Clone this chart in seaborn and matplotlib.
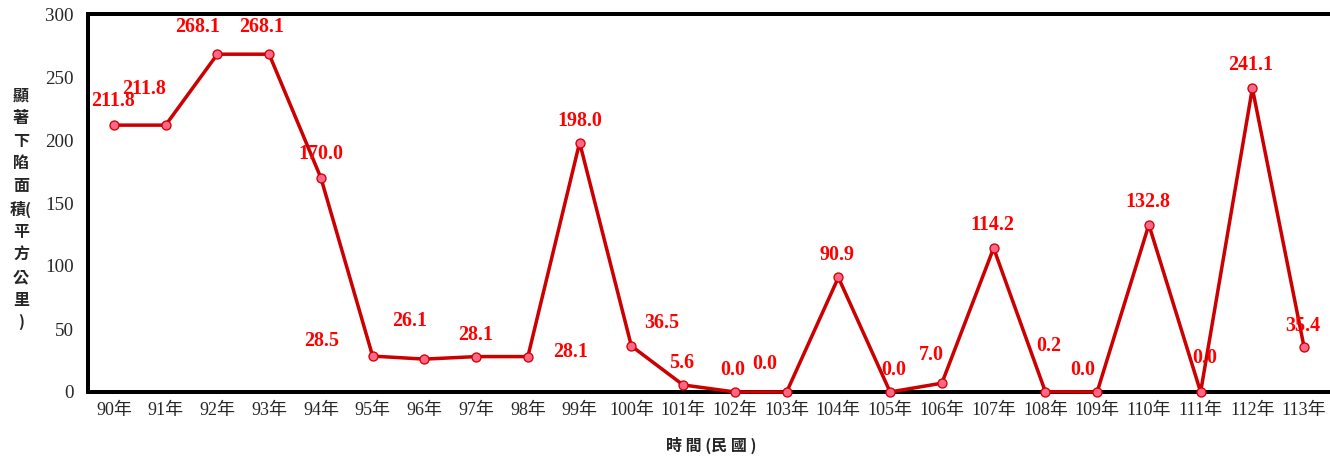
import numpy as np
import pandas as pd
import matplotlib
matplotlib.use("Agg")
import matplotlib.pyplot as plt
import seaborn as sns

years = list(range(90, 114))
area = [211.8, 211.8, 268.1, 268.1, 170.0, 28.5, 26.1, 28.1, 28.1, 198.0,
        36.5, 5.6, 0.0, 0.0, 90.9, 0.0, 7.0, 114.2, 0.2, 0.0,
        132.8, 0.0, 241.1, 35.4]
# label offsets (pixels) relative to each point, as placed in the original
label_dx = [-1, -22, -20, -8, 0, -51, -15, -1, 43, 0,
            30, -1, -2, -22, -1, 4, -11, -1, 3, -14,
            -1, 4, -2, -1]
label_dy = [24, 36, 27, 27, 24, 15, 38, 22, 5, 22,
            23, 22, 22, 28, 22, 22, 28, 23, 46, 22,
            23, 34, 23, 21]

df = pd.DataFrame({"x": np.arange(len(years)), "area": area})

sns.set_style("white")
plt.rcParams["font.family"] = ["Liberation Serif", "Noto Sans CJK TC"]

fig = plt.figure(figsize=(1330 / 72, 459 / 72), dpi=72)
ax = fig.add_axes([88 / 1330, 67 / 459, (1330 - 88) / 1330, 378 / 459])

sns.lineplot(data=df, x="x", y="area", ax=ax, color="#CC0000", linewidth=3.5,
             marker="o", markersize=9, markerfacecolor="#FF6688",
             markeredgecolor="#CC0000", markeredgewidth=1.3,
             clip_on=False, zorder=5)

for i, v in enumerate(area):
    ax.annotate(f"{v:.1f}", (i, v), xytext=(label_dx[i], label_dy[i]),
                textcoords="offset points", ha="center", va="center",
                fontsize=20, fontweight="bold", color="#FF0000",
                family="Liberation Serif", zorder=6)

ax.set_xlim(-0.5, 23.38)
ax.set_ylim(0, 300)
ax.set_yticks(range(0, 301, 50))
ax.set_xticks(np.arange(len(years)))
ax.set_xticklabels([f"{y}年" for y in years])
ax.set_xticks(np.arange(-0.5, len(years), 1), minor=True)
ax.tick_params(axis="x", which="major", length=0, pad=10, labelsize=18)
ax.tick_params(axis="x", which="minor", direction="in", length=6, width=1.2,
               color="black")
ax.tick_params(axis="y", length=0, pad=14, labelsize=19)

for side in ["left", "bottom", "top"]:
    ax.spines[side].set_linewidth(4)
    ax.spines[side].set_color("black")
ax.spines["right"].set_visible(False)

ax.set_xlabel("")
ax.set_ylabel("")
fig.text(21 / 1330, 1 - 209 / 459,
         "顯\n著\n下\n陷\n面\n積(\n平\n方\n公\n里\n)",
         ha="center", va="center", fontsize=16, fontweight="bold",
         linespacing=1.5, family=["Noto Sans CJK TC"])
fig.text(711 / 1330, 1 - 445 / 459, "時 間 (民 國 )", ha="center", va="center",
         fontsize=16, fontweight="bold", family=["Noto Sans CJK TC"])

fig.savefig("out.png", dpi=72)
